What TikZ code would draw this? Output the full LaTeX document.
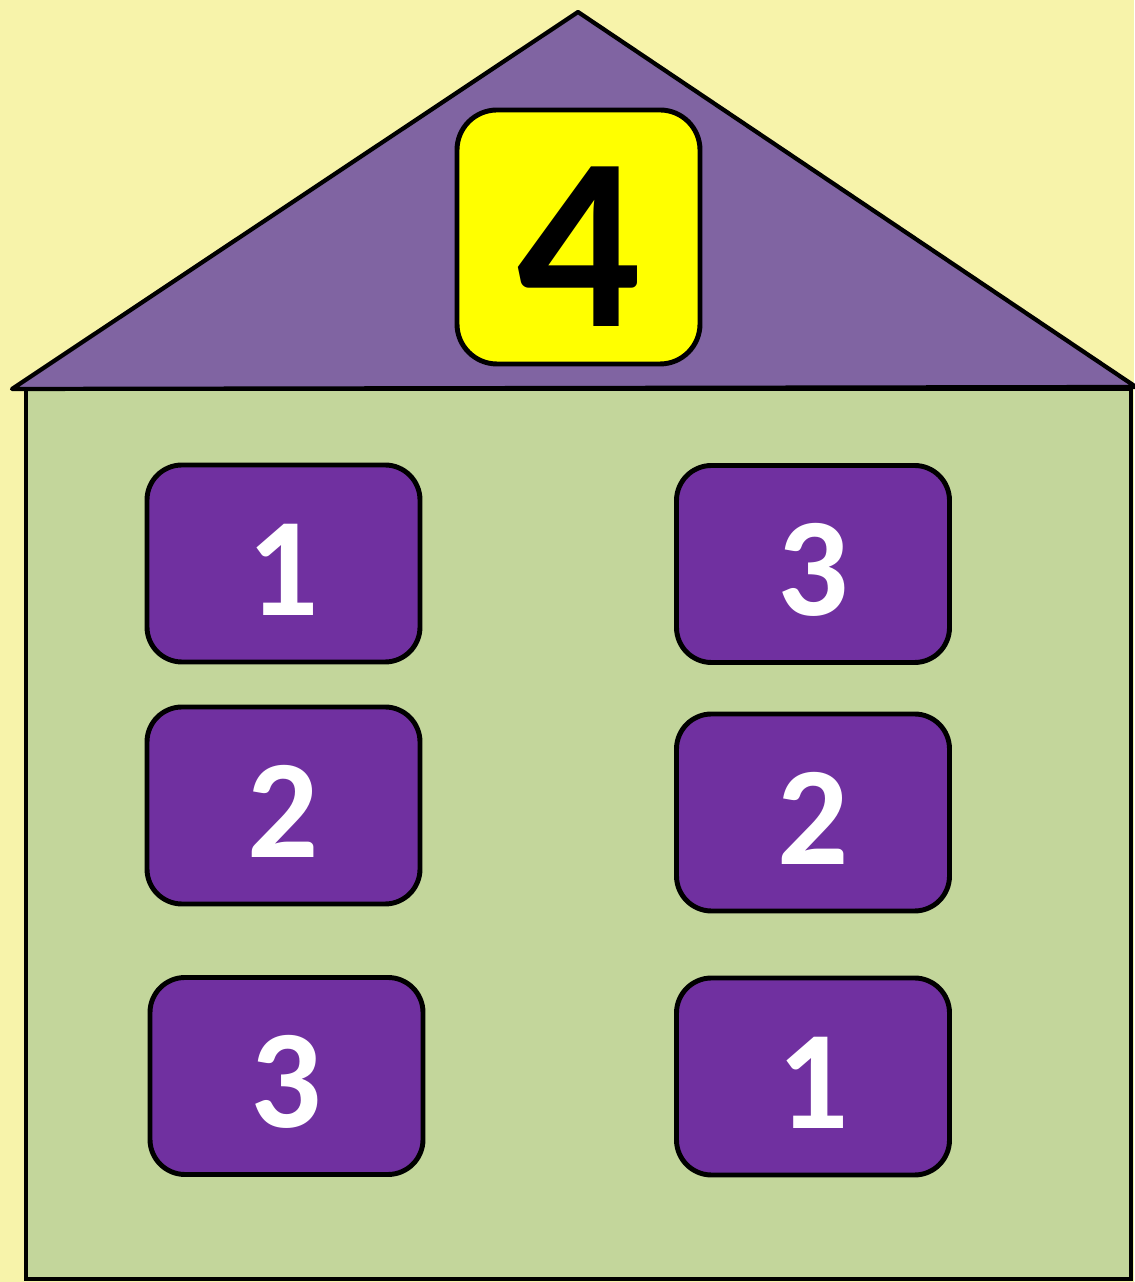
\documentclass[tikz,border=0pt]{standalone}
\usepackage{fontspec}
\setmainfont{Carlito}
\usepackage{xcolor}
\usetikzlibrary{positioning}
\definecolor{bgyellow}{HTML}{F7F3AA}
\definecolor{roofpurple}{HTML}{8064A2}
\definecolor{wallgreen}{HTML}{C3D69B}
\definecolor{boxpurple}{HTML}{7030A0}
\definecolor{topyellow}{HTML}{FFFF00}

\begin{document}
\begin{tikzpicture}[
    part/.style={draw, line width=1.4pt, rounded corners=0.35cm, fill=boxpurple, text=white,
      minimum width=2.73cm, minimum height=1.97cm, text height=1.04cm, text depth=0pt,
      font=\fontsize{40}{40}\selectfont\bfseries},
    whole/.style={draw, line width=1.4pt, rounded corners=0.4cm, fill=topyellow, text=black,
      minimum width=2.43cm, minimum height=2.54cm, text height=1.8cm, text depth=0pt,
      font=\fontsize{70}{70}\selectfont\bfseries}
  ]
    \useasboundingbox (0,0) rectangle (11.34,12.82);
    \fill[bgyellow] (0,0) rectangle (11.34,12.82);

    % house
    \draw[line width=1.2pt, fill=wallgreen] (0.26,0.03) rectangle (11.31,8.93);
    \draw[line width=1.2pt, fill=roofpurple, line join=round] (0.12,8.93) -- (5.78,12.70) -- (11.36,8.95) -- cycle;

    \node[whole] (top) at (5.785, 10.45) {4};

    \node[part] (l1) at (2.835, 7.185) {1};
    \node[part] (l2) at (2.835, 4.765) {2};
    \node[part] (l3) at (2.865, 2.06)  {3};

    \node[part] (r1) at (8.13, 7.18)  {3};
    \node[part] (r2) at (8.13, 4.695) {2};
    \node[part] (r3) at (8.13, 2.055) {1};
  \end{tikzpicture}
\end{document}
